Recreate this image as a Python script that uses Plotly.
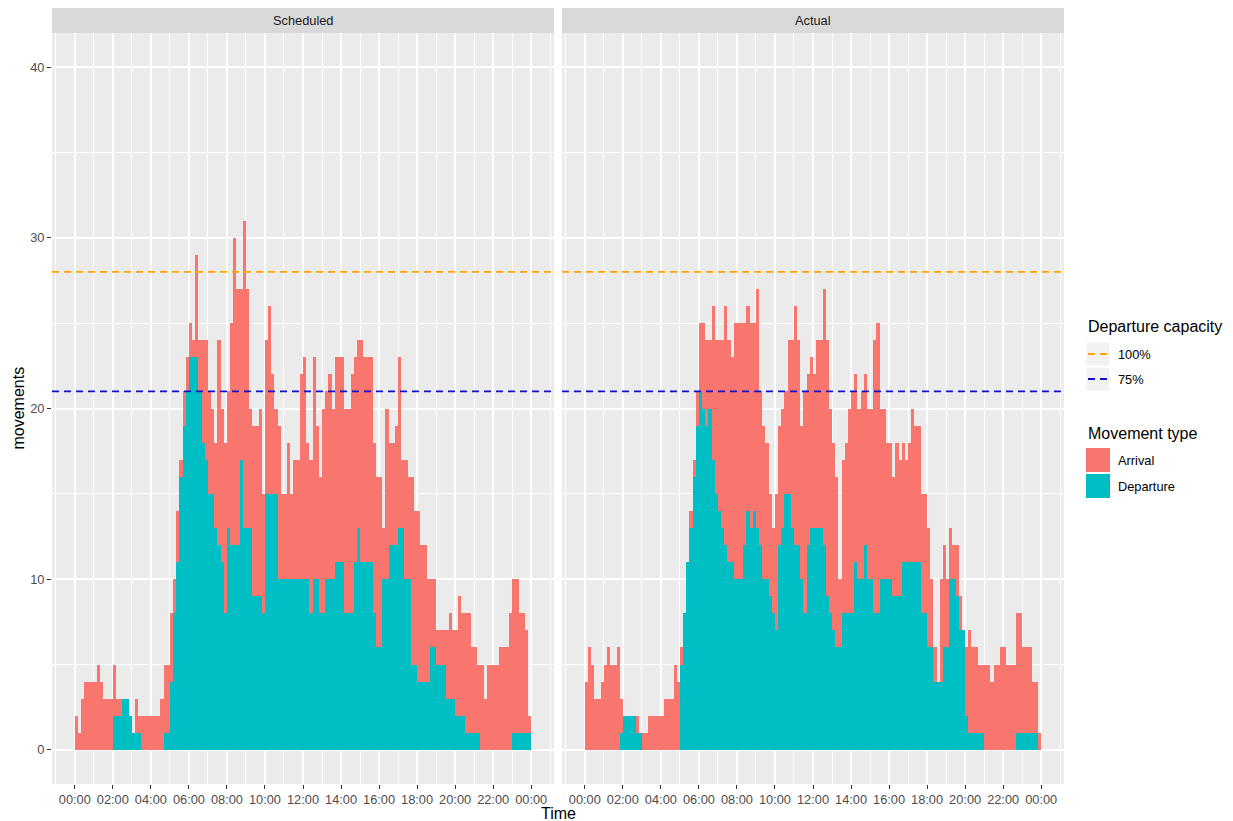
import plotly.graph_objects as go

# ---- data -------------------------------------------------------------
# ten-minute bins across the day (start of bin, minutes after midnight)
bin_start_min = list(range(0, 1440, 10))

# Scheduled movements per bin
sched_departures = [
    0, 0, 0, 0, 0, 0,   0, 0, 0, 0, 0, 0,   2, 2, 2, 3, 3, 2,
    1, 1, 1, 0, 0, 0,   0, 0, 0, 0, 1, 1,   4, 8, 11, 16, 19, 21,
    23, 23, 23, 21, 18, 17,   15, 15, 13, 12, 11, 8,   13, 12, 12, 12, 17, 13,
    13, 13, 9, 9, 9, 8,   15, 15, 15, 15, 10, 10,   10, 10, 10, 10, 10, 10,
    10, 10, 8, 10, 10, 8,   8, 10, 10, 10, 11, 11,   11, 8, 8, 8, 11, 13,
    11, 11, 11, 11, 8, 6,   6, 10, 10, 12, 12, 12,   13, 13, 10, 10, 5, 5,
    4, 4, 4, 4, 6, 6,   5, 5, 5, 3, 3, 3,   2, 2, 2, 1, 1, 1,
    1, 1, 0, 0, 0, 0,   0, 0, 0, 0, 0, 0,   1, 1, 1, 1, 1, 1,
]
sched_arrivals = [
    2, 1, 3, 4, 4, 4,   4, 5, 4, 3, 3, 3,   3, 1, 1, 0, 0, 0,
    0, 2, 1, 2, 2, 2,   2, 2, 2, 3, 4, 4,   4, 2, 3, 1, 2, 2,
    2, 1, 6, 3, 6, 7,   6, 5, 5, 12, 9, 10,   8, 13, 18, 15, 10, 18,
    14, 7, 10, 10, 11, 7,   9, 11, 7, 5, 9, 5,   5, 8, 5, 7, 7, 12,
    13, 8, 9, 13, 9, 8,   12, 11, 12, 10, 12, 12,   12, 12, 12, 14, 12, 11,
    13, 12, 12, 12, 10, 10,   10, 3, 10, 6, 6, 7,   10, 4, 7, 6, 11, 9,
    10, 8, 8, 6, 4, 4,   2, 2, 2, 4, 5, 4,   5, 7, 6, 7, 7, 5,
    5, 4, 5, 3, 5, 5,   5, 5, 6, 6, 6, 8,   9, 9, 7, 7, 6, 1,
]

# Actual movements per bin
actual_departures = [
    0, 0, 0, 0, 0, 0,   0, 0, 0, 0, 0, 1,   2, 2, 2, 2, 1, 1,
    0, 0, 0, 0, 0, 0,   0, 0, 0, 0, 0, 0,   5, 8, 11, 13, 16, 19,
    21, 20, 19, 20, 17, 15,   14, 13, 12, 11, 11, 10,   10, 10, 12, 14, 13, 14,
    13, 12, 10, 10, 9, 8,   7, 12, 13, 15, 15, 13,   12, 12, 10, 8, 12, 13,
    13, 13, 13, 12, 9, 8,   7, 6, 6, 8, 8, 8,   8, 11, 10, 10, 12, 10,
    10, 8, 8, 10, 10, 10,   10, 9, 9, 9, 11, 11,   11, 11, 11, 11, 8, 8,
    6, 6, 4, 4, 4, 6,   6, 10, 10, 9, 7, 7,   2, 1, 1, 1, 1, 1,
    0, 0, 0, 0, 0, 0,   0, 0, 0, 0, 1, 1,   1, 1, 1, 1, 1, 0,
]
actual_arrivals = [
    4, 6, 5, 3, 3, 4,   5, 6, 5, 5, 6, 2,   0, 0, 0, 0, 1, 0,
    1, 1, 2, 2, 2, 2,   2, 3, 3, 3, 5, 4,   1, 0, 0, 1, 1, 2,
    4, 5, 5, 4, 9, 9,   10, 11, 14, 13, 12, 15,   15, 15, 13, 12, 12, 11,
    14, 9, 9, 8, 6, 5,   8, 7, 7, 6, 9, 11,   14, 12, 9, 13, 10, 10,
    9, 11, 11, 15, 15, 12,   11, 10, 4, 9, 10, 12,   13, 11, 10, 11, 10, 10,
    10, 16, 17, 10, 10, 8,   8, 7, 9, 8, 7, 6,   7, 9, 8, 8, 7, 7,
    7, 4, 2, 0, 6, 6,   4, 3, 2, 3, 2, 0,   4, 6, 5, 5, 4, 4,
    5, 5, 4, 5, 5, 6,   6, 5, 5, 5, 7, 7,   5, 5, 5, 3, 3, 1,
]

# Departure capacity reference levels
capacity_labels = ["100%", "75%"]
capacity_values = [28, 21]

# Facets, movement types and axis labelling
panel_titles = ["Scheduled", "Actual"]
movement_types = ["Arrival", "Departure"]
tick_hours = [0, 2, 4, 6, 8, 10, 12, 14, 16, 18, 20, 22, 24]
tick_labels = ["00:00", "02:00", "04:00", "06:00", "08:00", "10:00", "12:00",
               "14:00", "16:00", "18:00", "20:00", "22:00", "00:00"]
y_ticks = [0, 10, 20, 30, 40]

# ---- styling ----------------------------------------------------------
W, H = 1233, 821
ML, MR, MT, MB = 52, 169, 33, 37
PW, PH = W - ML - MR, H - MT - MB
FONT = "Liberation Sans, Arial, sans-serif"
PANEL_BG = "#EBEBEB"
STRIP_BG = "#D9D9D9"
FILL = {"Arrival": "#F8766D", "Departure": "#00BFC4"}
CAP_COLORS = {"100%": "#FFA500", "75%": "#1010C8"}
DASH = "7px,5px"


def paper_x(px):
    return (px - ML) / PW


def paper_y(py):
    return (H - MB - py) / PH


bin_width_h = 10 / 60
bar_x = [m / 60 + bin_width_h / 2 for m in bin_start_min]

fig = go.Figure()

panels = [
    ("x", "y", sched_departures, sched_arrivals),
    ("x2", "y2", actual_departures, actual_arrivals),
]
for xa, ya, dep, arr in panels:
    fig.add_trace(go.Bar(
        x=bar_x, y=dep, width=bin_width_h, name="Departure",
        marker=dict(color=FILL["Departure"], line=dict(width=0)),
        xaxis=xa, yaxis=ya, showlegend=False,
    ))
    fig.add_trace(go.Bar(
        x=bar_x, y=arr, width=bin_width_h, name="Arrival",
        marker=dict(color=FILL["Arrival"], line=dict(width=0)),
        xaxis=xa, yaxis=ya, showlegend=False,
    ))

minor_x = [-1] + [h + 1 for h in tick_hours]
axis_common = dict(
    showgrid=True, gridcolor="white", gridwidth=1.6,
    zeroline=False, showline=False,
    ticks="outside", ticklen=4, tickwidth=1.1, tickcolor="#333333",
    tickfont=dict(family=FONT, size=12.8, color="#4D4D4D"),
)
xaxis_common = dict(
    axis_common, range=[-1.2, 25.2],
    tickmode="array", tickvals=tick_hours, ticktext=tick_labels, tickangle=0,
    minor=dict(tickmode="array", tickvals=minor_x, showgrid=True,
               gridcolor="white", gridwidth=0.9, ticks=""),
)
yaxis_common = dict(
    axis_common, range=[-2, 42],
    tickmode="array", tickvals=y_ticks,
    minor=dict(tickmode="array", tickvals=[5, 15, 25, 35], showgrid=True,
               gridcolor="white", gridwidth=0.9, ticks=""),
)

gap = 8
half = (PW - gap) / 2
fig.update_layout(
    width=W, height=H,
    margin=dict(l=ML, r=MR, t=MT, b=MB, pad=0),
    paper_bgcolor="white", plot_bgcolor=PANEL_BG,
    barmode="stack", bargap=0,
    showlegend=False,
    font=dict(family=FONT, color="black"),
    xaxis=dict(xaxis_common, domain=[0, half / PW], anchor="y"),
    xaxis2=dict(xaxis_common, domain=[(half + gap) / PW, 1], anchor="y2"),
    yaxis=dict(yaxis_common, domain=[0, 1], anchor="x"),
    yaxis2=dict(yaxis_common, domain=[0, 1], anchor="x2", matches="y",
                showticklabels=False, ticks=""),
)

shapes = []
annotations = []

# facet strips and capacity lines
for i, title in enumerate(panel_titles):
    xd = "x domain" if i == 0 else "x2 domain"
    yr = "y" if i == 0 else "y2"
    shapes.append(dict(type="rect", xref=xd, yref="paper",
                       x0=0, x1=1, y0=paper_y(MT), y1=paper_y(8),
                       fillcolor=STRIP_BG, line=dict(width=0), layer="below"))
    annotations.append(dict(text=title, xref=xd, yref="paper",
                            x=0.5, y=paper_y(20.5), showarrow=False,
                            xanchor="center", yanchor="middle",
                            font=dict(family=FONT, size=12.8, color="#1A1A1A")))
    for lab, val in zip(capacity_labels, capacity_values):
        shapes.append(dict(type="line", xref=xd, yref=yr,
                           x0=0, x1=1, y0=val, y1=val, layer="above",
                           line=dict(color=CAP_COLORS[lab], width=1.8, dash=DASH)))

# axis titles
annotations.append(dict(text="Time", xref="paper", yref="paper",
                        x=paper_x((ML + W - MR) / 2), y=paper_y(813),
                        showarrow=False, xanchor="center", yanchor="middle",
                        font=dict(family=FONT, size=16, color="black")))
annotations.append(dict(text="movements", xref="paper", yref="paper",
                        x=paper_x(18), y=paper_y(MT + PH / 2), textangle=-90,
                        showarrow=False, xanchor="center", yanchor="middle",
                        font=dict(family=FONT, size=16, color="black")))

# legend: departure capacity
LX, KEY = 1086, 24
annotations.append(dict(text="Departure capacity", xref="paper", yref="paper",
                        x=paper_x(LX), y=paper_y(326), showarrow=False,
                        xanchor="left", yanchor="middle",
                        font=dict(family=FONT, size=16, color="black")))
for k, lab in enumerate(capacity_labels):
    cy = 354 + 25 * k
    shapes.append(dict(type="rect", xref="paper", yref="paper",
                       x0=paper_x(LX), x1=paper_x(LX + KEY),
                       y0=paper_y(cy + KEY / 2), y1=paper_y(cy - KEY / 2),
                       fillcolor="#F2F2F2", line=dict(color="white", width=1)))
    shapes.append(dict(type="line", xref="paper", yref="paper",
                       x0=paper_x(LX + 2), x1=paper_x(LX + KEY - 2),
                       y0=paper_y(cy), y1=paper_y(cy),
                       line=dict(color=CAP_COLORS[lab], width=1.8, dash=DASH)))
    annotations.append(dict(text=lab, xref="paper", yref="paper",
                            x=paper_x(LX + KEY + 6), y=paper_y(cy),
                            showarrow=False, xanchor="left", yanchor="middle",
                            font=dict(family=FONT, size=12.8, color="black")))

# legend: movement type
annotations.append(dict(text="Movement type", xref="paper", yref="paper",
                        x=paper_x(LX), y=paper_y(433), showarrow=False,
                        xanchor="left", yanchor="middle",
                        font=dict(family=FONT, size=16, color="black")))
for k, lab in enumerate(movement_types):
    cy = 460 + 26 * k
    shapes.append(dict(type="rect", xref="paper", yref="paper",
                       x0=paper_x(LX), x1=paper_x(LX + KEY),
                       y0=paper_y(cy + KEY / 2), y1=paper_y(cy - KEY / 2),
                       fillcolor=FILL[lab], line=dict(width=0)))
    annotations.append(dict(text=lab, xref="paper", yref="paper",
                            x=paper_x(LX + KEY + 6), y=paper_y(cy),
                            showarrow=False, xanchor="left", yanchor="middle",
                            font=dict(family=FONT, size=12.8, color="black")))

fig.update_layout(shapes=shapes, annotations=annotations)
fig.write_html("out.html")
